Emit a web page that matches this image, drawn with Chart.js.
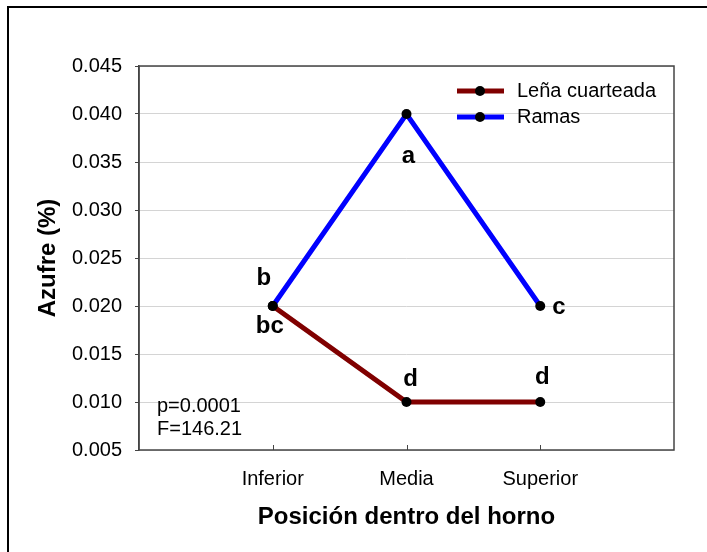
<!DOCTYPE html>
<html>
<head>
<meta charset="utf-8">
<script src="https://cdn.jsdelivr.net/npm/chart.js@4.4.1/dist/chart.umd.min.js"></script>
<style>
html, body { margin: 0; padding: 0; background: #fff; }
</style>
</head>
<body>
<canvas id="azufre_chart" width="707" height="552"></canvas>
<script>
var categories = ['Inferior', 'Media', 'Superior'];
var lena = [0.020, 0.010, 0.010];
var ramas = [0.020, 0.040, 0.020];
var lenaLetters = ['bc', 'd', 'd'];
var ramasLetters = ['b', 'a', 'c'];
var statsText = ['p=0.0001', 'F=146.21'];

var FONT = '"Liberation Sans", Arial, sans-serif';

function toPoints(values) {
    return values.map(function (v, i) { return { x: i + 1, y: v }; });
}

// letter offsets from their point, in px (dx, dy to baseline, align)
var letterPos = {
    lena: [[-3, 27, 'center'], [4, -16, 'center'], [2, -18, 'center']],
    ramas: [[-9, -21, 'center'], [2, 49, 'center'], [12, 8, 'left']]
};

var extras = {
    id: 'extras',
    afterDraw: function (chart) {
        var ctx = chart.ctx;
        var area = chart.chartArea;
        var xs = chart.scales.x;
        var ys = chart.scales.y;
        ctx.save();

        // outer frame
        ctx.strokeStyle = '#000';
        ctx.lineWidth = 2;
        ctx.beginPath();
        ctx.moveTo(8, 552);
        ctx.lineTo(8, 7);
        ctx.lineTo(707, 7);
        ctx.stroke();

        // plot frame
        ctx.strokeStyle = '#444';
        ctx.lineWidth = 1.5;
        ctx.strokeRect(area.left, area.top, area.right - area.left, area.bottom - area.top);

        // inward x ticks
        ctx.lineWidth = 1;
        categories.forEach(function (c, i) {
            var px = Math.round(xs.getPixelForValue(i + 1)) + 0.5;
            ctx.beginPath();
            ctx.moveTo(px, area.bottom);
            ctx.lineTo(px, area.bottom - 5);
            ctx.stroke();
        });

        // legend
        var ds = chart.data.datasets;
        ctx.font = '20px ' + FONT;
        ctx.textBaseline = 'middle';
        ctx.textAlign = 'left';
        ds.forEach(function (d, i) {
            var ly = 91 + i * 26;
            ctx.strokeStyle = d.borderColor;
            ctx.lineWidth = 5;
            ctx.beginPath();
            ctx.moveTo(457, ly);
            ctx.lineTo(504, ly);
            ctx.stroke();
            ctx.fillStyle = '#000';
            ctx.beginPath();
            ctx.arc(480, ly, 5, 0, Math.PI * 2);
            ctx.fill();
            ctx.fillText(d.label, 517, ly);
        });

        // stats
        ctx.textBaseline = 'alphabetic';
        statsText.forEach(function (t, i) {
            ctx.fillText(t, 157, 412 + i * 23);
        });

        // significance letters
        ctx.font = 'bold 24px ' + FONT;
        function letters(vals, lets, pos) {
            vals.forEach(function (v, i) {
                var px = xs.getPixelForValue(i + 1);
                var py = ys.getPixelForValue(v);
                ctx.textAlign = pos[i][2];
                ctx.fillText(lets[i], px + pos[i][0], py + pos[i][1]);
            });
        }
        letters(lena, lenaLetters, letterPos.lena);
        letters(ramas, ramasLetters, letterPos.ramas);
        ctx.restore();
    }
};

var azufre_chart = new Chart(document.getElementById('azufre_chart'), {
    type: 'line',
    data: {
        datasets: [{
            label: 'Leña cuarteada',
            data: toPoints(lena),
            borderColor: '#800000',
            borderWidth: 5,
            pointRadius: 5,
            pointBackgroundColor: '#000',
            pointBorderWidth: 0,
            fill: false
        }, {
            label: 'Ramas',
            data: toPoints(ramas),
            borderColor: '#0000FF',
            borderWidth: 5,
            pointRadius: 5,
            pointBackgroundColor: '#000',
            pointBorderWidth: 0,
            fill: false
        }]
    },
    options: {
        responsive: false,
        animation: false,
        layout: {
            padding: { top: 66, right: 33, left: 0, bottom: 0 }
        },
        plugins: {
            legend: { display: false },
            tooltip: { enabled: false }
        },
        scales: {
            x: {
                type: 'linear',
                min: 0,
                max: 4,
                afterFit: function (s) { s.height = 102; },
                grid: { display: false },
                border: { display: false },
                ticks: {
                    stepSize: 1,
                    padding: 9,
                    color: '#000',
                    font: { family: FONT, size: 20 },
                    callback: function (v) { return categories[v - 1] || ''; }
                },
                title: {
                    display: true,
                    text: 'Posición dentro del horno',
                    color: '#000',
                    font: { family: FONT, size: 24, weight: 'bold' },
                    padding: { top: 0, bottom: 20 }
                }
            },
            y: {
                min: 0.005,
                max: 0.045,
                afterFit: function (s) { s.width = 139; },
                grid: {
                    color: '#d4d4d4',
                    lineWidth: 1,
                    tickColor: '#444',
                    tickLength: 4
                },
                border: { color: '#444', width: 1.5 },
                ticks: {
                    stepSize: 0.005,
                    padding: 13,
                    color: '#000',
                    font: { family: FONT, size: 20 },
                    callback: function (v) { return v.toFixed(3); }
                },
                title: {
                    display: true,
                    text: 'Azufre (%)',
                    color: '#000',
                    font: { family: FONT, size: 24, weight: 'bold' },
                    padding: { top: 34, bottom: 0 }
                }
            }
        }
    },
    plugins: [extras]
});
</script>
</body>
</html>
